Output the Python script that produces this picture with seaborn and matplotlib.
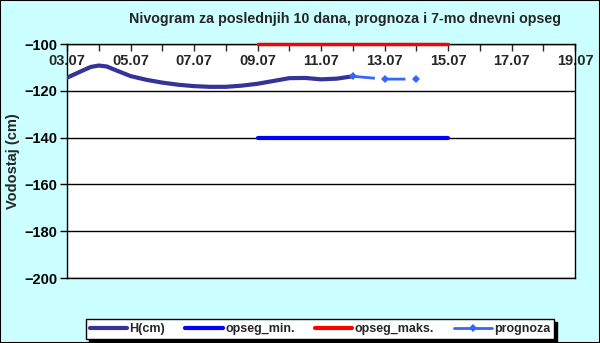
import matplotlib
matplotlib.use("Agg")
import matplotlib.pyplot as plt
from matplotlib.lines import Line2D
import seaborn as sns
import pandas as pd
from matplotlib.ticker import MultipleLocator, FixedLocator

# ---- data ----
tick_labels = ["03.07", "05.07", "07.07", "09.07", "11.07", "13.07", "15.07", "17.07", "19.07"]
h_days = [0, 0.5, 0.75, 1, 1.25, 1.5, 2, 2.5, 3, 3.5, 4, 4.5, 5, 5.5, 6, 6.5, 7, 7.5, 8, 8.5, 9]
h_vals = [-114.4, -111.3, -109.8, -109.2, -109.6, -111.0, -113.7, -115.3, -116.5, -117.4, -118.0,
          -118.3, -118.3, -117.8, -117.0, -115.8, -114.6, -114.5, -115.1, -114.8, -113.8]
prog_days = [9, 10, 11]
prog_vals = [-113.8, -115.0, -115.0]
min_days = [6, 12]
min_vals = [-140, -140]
max_days = [6, 12]
max_vals = [-100, -100]

title = "Nivogram za poslednjih 10 dana, prognoza i 7-mo dnevni opseg"
ylabel = "Vodostaj (cm)"
series_names = ["H(cm)", "opseg_min.", "opseg_maks.", "prognoza"]

sns.set_style("white")
plt.rcParams["font.family"] = ["Liberation Sans", "DejaVu Sans"]
plt.rcParams["font.weight"] = "bold"

fig = plt.figure(figsize=(6.0, 3.43), dpi=100, facecolor="#CCFFFF")
fig.patches.append(plt.Rectangle((0, 0), 1, 1, transform=fig.transFigure, fill=False,
                                 edgecolor="black", linewidth=1.5, zorder=10))
ax = fig.add_axes([67/600, 1-278/343, (575-67)/600, (278-44)/343])
ax.set_facecolor("white")

df_h = pd.DataFrame({"x": h_days, "y": h_vals})
df_p = pd.DataFrame({"x": prog_days, "y": prog_vals})
df_min = pd.DataFrame({"x": min_days, "y": min_vals})
df_max = pd.DataFrame({"x": max_days, "y": max_vals})

sns.lineplot(data=df_h, x="x", y="y", ax=ax, color="#333399", linewidth=3.0, zorder=4, legend=False)
sns.lineplot(data=df_min, x="x", y="y", ax=ax, color="#0000FF", linewidth=3.0, zorder=3, legend=False)
sns.lineplot(data=df_max, x="x", y="y", ax=ax, color="#FF0000", linewidth=2.5, zorder=3, legend=False)
sns.lineplot(data=df_p, x="x", y="y", ax=ax, color="#3366FF", linewidth=2.0, marker="D",
             markersize=4, markeredgewidth=0, zorder=5, legend=False)
for line in ax.lines:
    if line.get_color() == "#3366FF":
        line.set_dashes([8, 3])
    if line.get_color() == "#FF0000":
        line.set_clip_on(False)

ax.set_xlim(0, 16)
ax.set_ylim(-200, -100)
ax.set_xlabel("")
ax.set_ylabel(ylabel, fontsize=10.5, fontweight="bold", labelpad=3)

ax.yaxis.set_major_locator(MultipleLocator(20))
ax.tick_params(axis="y", direction="out", length=5, width=1, left=True, labelsize=10.5, pad=2, colors="black")
ax.grid(axis="y", color="black", linewidth=1)
ax.grid(axis="x", visible=False)

ax.xaxis.tick_top()
ax.xaxis.set_major_locator(FixedLocator(list(range(0, 17, 2))))
ax.set_xticklabels(tick_labels)
ax.xaxis.set_minor_locator(MultipleLocator(1))
ax.tick_params(axis="x", which="both", direction="in", length=5, width=1, top=True, bottom=False,
               labeltop=True, labelbottom=False, labelsize=10.5, pad=-17)
for s in ax.spines.values():
    s.set_visible(True)
    s.set_color("black")
    s.set_linewidth(1)

fig.text(345/600, 1-19/343, title, ha="center", va="center", fontsize=10.3, fontweight="bold")

handles = [
    Line2D([], [], color="#333399", linewidth=3.0),
    Line2D([], [], color="#0000FF", linewidth=3.0),
    Line2D([], [], color="#FF0000", linewidth=3.0),
    Line2D([], [], color="#3366FF", linewidth=2.0, marker="D", markersize=4,
           markeredgewidth=0, markevery=[1]),
]
leg = fig.legend(handles, series_names, loc="center", bbox_to_anchor=(320/600, 1-329/343), ncol=4,
                 frameon=True, fancybox=False, shadow={"color": "black", "alpha": 1},
                 fontsize=9, handlelength=3.0, handletextpad=0.2, columnspacing=1.6,
                 borderpad=0.3, edgecolor="black")
leg.get_frame().set_linewidth(1)
for t in leg.get_texts():
    t.set_fontweight("bold")

fig.savefig("out.png", dpi=100, facecolor=fig.get_facecolor())
